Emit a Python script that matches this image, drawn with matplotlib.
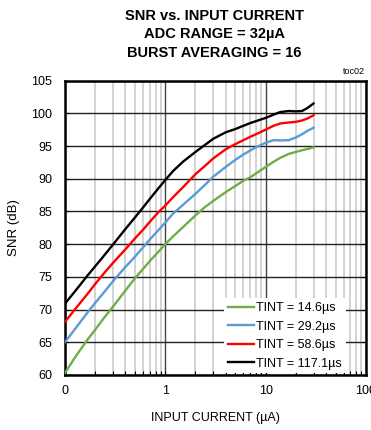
import numpy as np
import matplotlib
matplotlib.use('Agg')
import matplotlib.pyplot as plt
from matplotlib.ticker import LogLocator, FixedLocator, FixedFormatter, NullFormatter

plt.rcParams['font.family'] = ['Liberation Sans', 'DejaVu Sans']

# input current (uA) and SNR (dB) for each integration time
corriente = [0.1, 0.13, 0.17, 0.2, 0.25, 0.3, 0.4, 0.5, 0.6, 0.7, 0.85, 1, 1.2, 1.5, 2,
             2.5, 3, 4, 5, 6, 7, 8, 10, 12, 14, 17, 20, 23, 26, 30]
snr_146 = [60.3, 63.0, 65.5, 66.9, 68.9, 70.4, 72.9, 74.8, 76.2, 77.4, 78.8, 80.0, 81.2,
           82.6, 84.4, 85.7, 86.6, 87.95, 88.9, 89.7, 90.2, 90.8, 91.8, 92.6, 93.2, 93.8,
           94.1, 94.35, 94.55, 94.8]
snr_292 = [65.0, 67.3, 69.65, 71.0, 72.8, 74.3, 76.5, 78.1, 79.5, 80.7, 82.1, 83.3, 84.7,
           86.0, 87.7, 89.1, 90.3, 91.8, 92.9, 93.7, 94.3, 94.8, 95.5, 95.9, 95.85, 95.9,
           96.3, 96.8, 97.3, 97.8]
snr_586 = [68.1, 70.3, 72.5, 73.9, 75.7, 77.1, 79.2, 80.9, 82.2, 83.4, 84.85, 85.9, 87.2,
           88.7, 90.7, 92.0, 93.1, 94.5, 95.3, 95.9, 96.4, 96.8, 97.5, 98.1, 98.45, 98.6,
           98.7, 98.9, 99.2, 99.7]
snr_1171 = [70.9, 73.05, 75.3, 76.6, 78.4, 79.9, 82.3, 84.1, 85.6, 86.9, 88.5, 89.8, 91.2,
            92.6, 94.1, 95.2, 96.1, 97.1, 97.6, 98.1, 98.5, 98.8, 99.3, 99.8, 100.2, 100.35,
            100.3, 100.35, 100.8, 101.5]

etiquetas = ['TINT = 14.6µs', 'TINT = 29.2µs', 'TINT = 58.6µs', 'TINT = 117.1µs']
colores = ['#70ad47', '#5b9bd5', '#ff0000', '#000000']
series = [snr_146, snr_292, snr_586, snr_1171]

xticks = [0.1, 1, 10, 100]
xticklabels = ['0', '1', '10', '100']
yticks = [60, 65, 70, 75, 80, 85, 90, 95, 100, 105]

fig = plt.figure(figsize=(3.71, 4.30), dpi=100)
ax = fig.add_axes([0.175, 0.128, 0.8115, 0.6845])

for s, c, lab in zip(series, colores, etiquetas):
    ax.plot(corriente, s, color=c, lw=1.7, label=lab, zorder=3)

ax.set_xscale('log')
ax.set_xlim(0.1, 100)
ax.set_ylim(60, 105)
ax.xaxis.set_major_locator(FixedLocator(xticks))
ax.xaxis.set_major_formatter(FixedFormatter(xticklabels))
ax.xaxis.set_minor_locator(LogLocator(base=10, subs=np.arange(2, 10)))
ax.xaxis.set_minor_formatter(NullFormatter())
ax.set_yticks(yticks)

# grilla: menores gris claro, mayores oscuras
ax.grid(which='minor', axis='x', color='#cccccc', lw=1.2)
ax.grid(which='major', axis='x', color='#444444', lw=1.0)
ax.grid(which='major', axis='y', color='#222222', lw=1.0)
ax.set_axisbelow(True)

ax.tick_params(which='both', direction='in', right=True, length=3, width=0.8,
               labelsize=9, pad=7)
ax.tick_params(axis='y', pad=9)
for sp in ax.spines.values():
    sp.set_linewidth(1.8)
    sp.set_color('black')

ax.set_xlabel('INPUT CURRENT (µA)', fontsize=9, labelpad=11)
ax.set_ylabel('SNR (dB)', fontsize=9.5, labelpad=8)

leg = ax.legend(loc='lower left', bbox_to_anchor=(0.529, 0.005), borderaxespad=0,
                fontsize=9, frameon=True, fancybox=False, framealpha=1,
                handlelength=2.1, handletextpad=0.15, labelspacing=0.52,
                borderpad=0.3)
leg.get_frame().set_edgecolor('none')
leg.get_frame().set_facecolor('white')
leg.set_zorder(5)

fig.text(0.577, 0.962, 'SNR vs. INPUT CURRENT', ha='center', va='center',
         fontsize=10.5, fontweight='bold')
fig.text(0.577, 0.920, 'ADC RANGE = 32µA', ha='center', va='center',
         fontsize=10.5, fontweight='bold')
fig.text(0.577, 0.876, 'BURST AVERAGING = 16', ha='center', va='center',
         fontsize=10.5, fontweight='bold')
fig.text(0.984, 0.833, 'toc02', ha='right', va='center', fontsize=6.5)

plt.savefig('out.png', dpi=100)
